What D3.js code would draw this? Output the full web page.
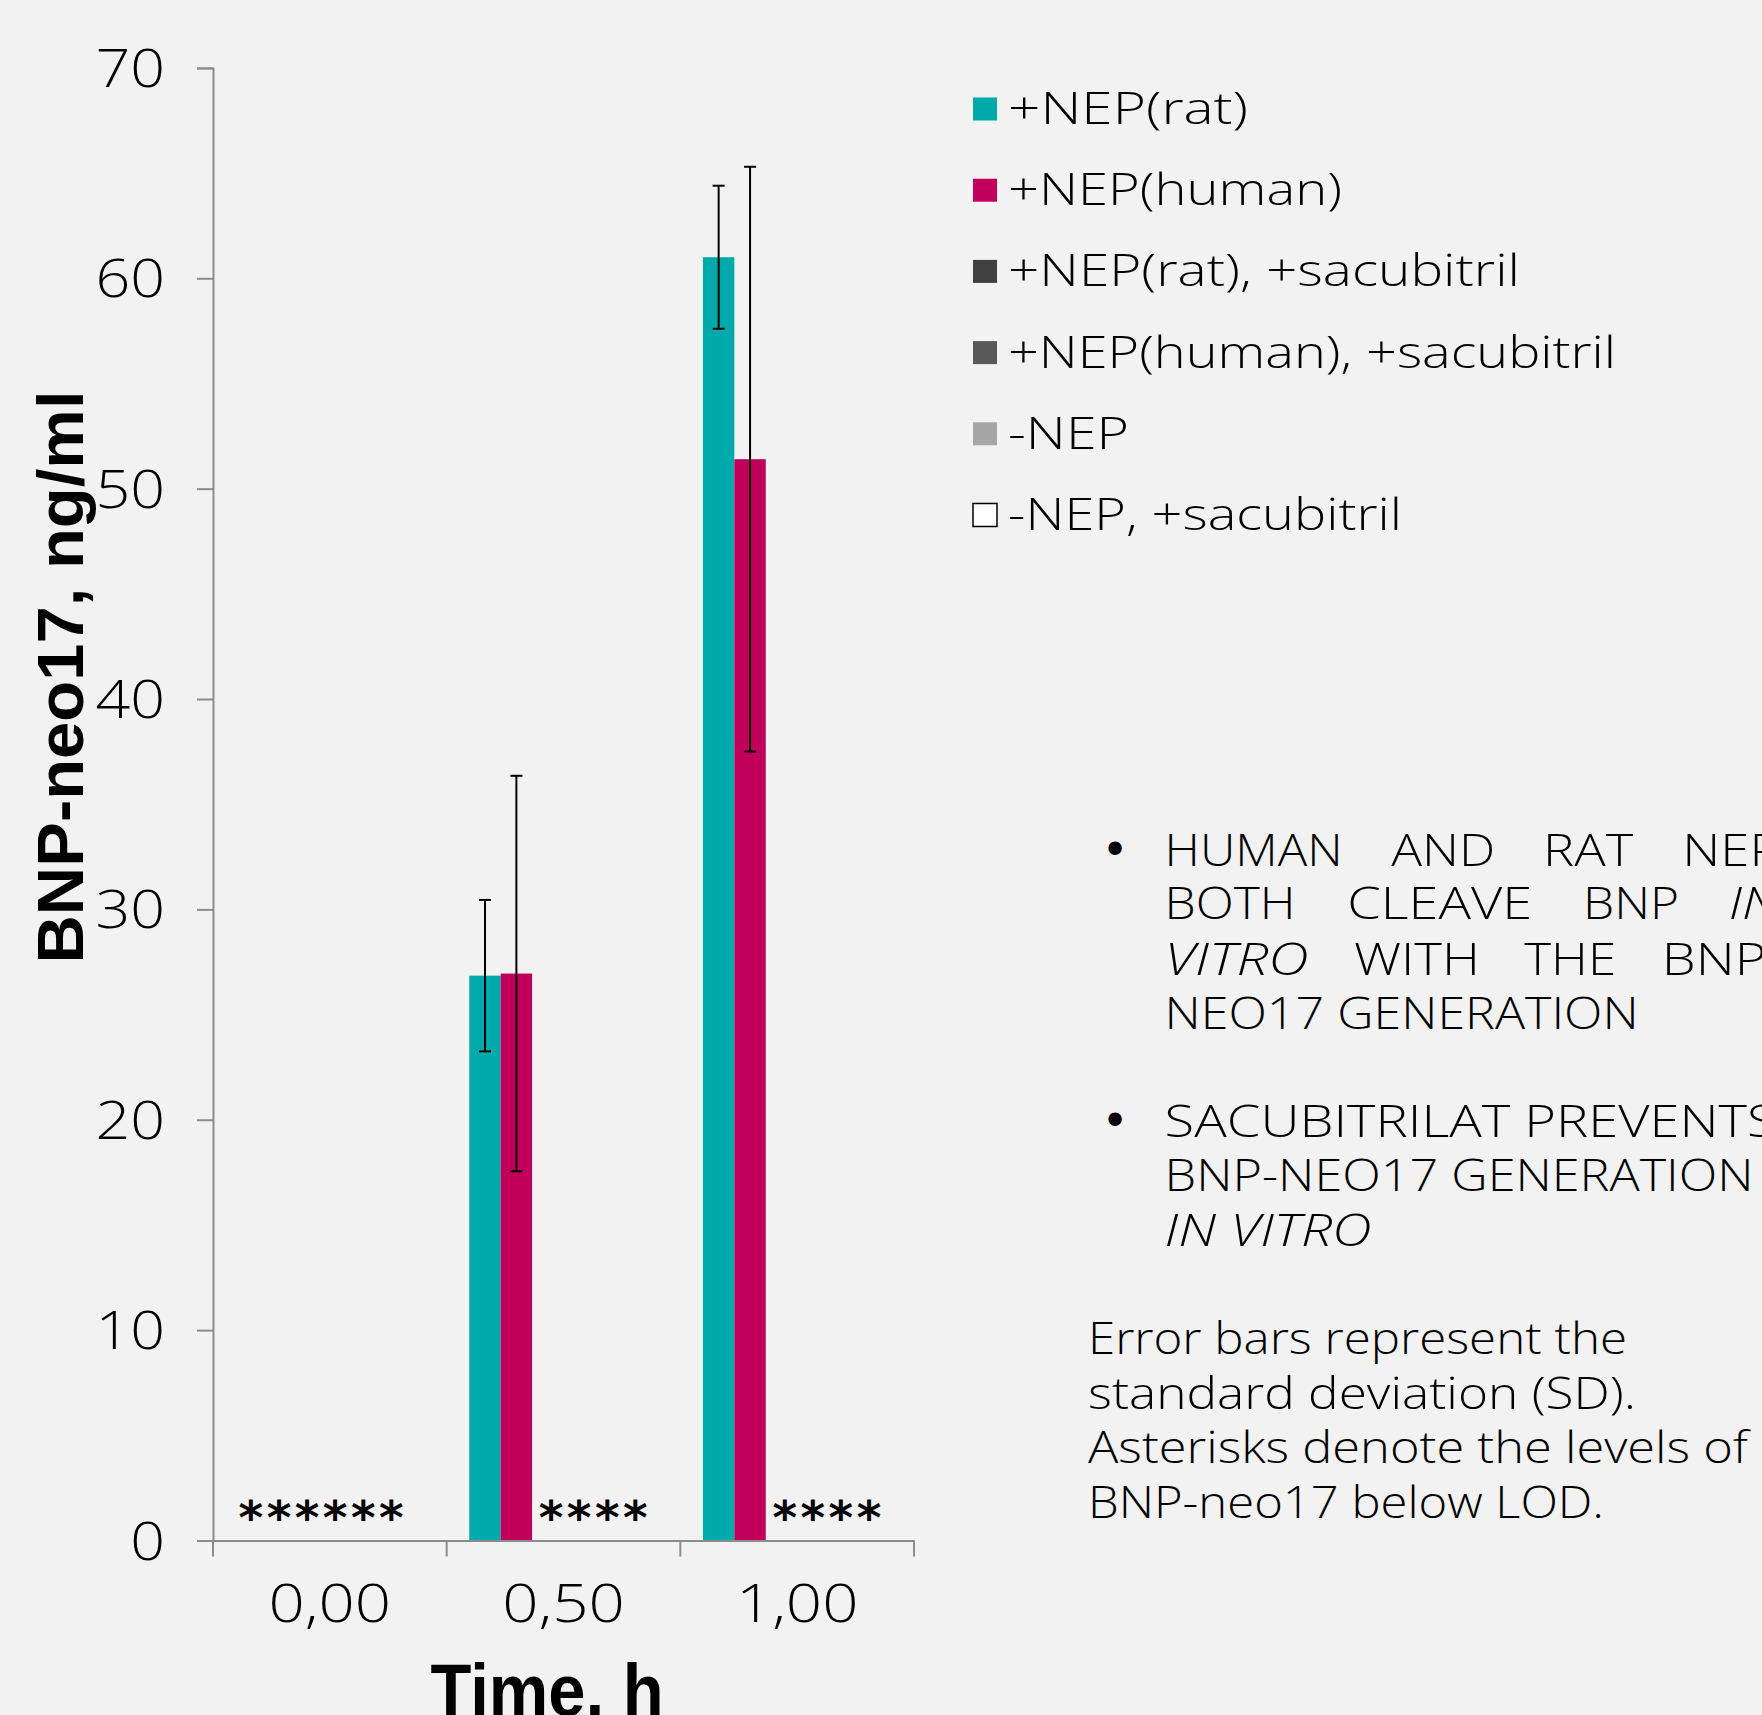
<!DOCTYPE html>
<html>
<head>
<meta charset="utf-8">
<script src="https://cdn.jsdelivr.net/npm/d3@7"></script>
<style>
  html, body { margin: 0; padding: 0; background: #f2f2f2; }
  svg { display: block; }
</style>
</head>
<body>
<script>
// ---------------- DATA ----------------
const categories = ["0,00", "0,50", "1,00"];
const seriesNames = ["+NEP(rat)", "+NEP(human)", "+NEP(rat), +sacubitril",
                     "+NEP(human), +sacubitril", "-NEP", "-NEP, +sacubitril"];
const seriesColors = ["#00aaaa", "#c0005a", "#404040", "#595959", "#a6a6a6", "#ffffff"];
const ratNEP        = [0, 26.85, 61.0];
const humanNEP      = [0, 26.95, 51.4];
const ratNEPSac     = [0, 0, 0];
const humanNEPSac   = [0, 0, 0];
const noNEP         = [0, 0, 0];
const noNEPSac      = [0, 0, 0];
const ratSD         = [0, 3.6, 3.4];
const humanSD       = [0, 9.4, 13.9];
const zeroSD        = [0, 0, 0];
// below limit of detection (asterisk) flags per series, per category
const belowLOD = [
  [true, false, false],
  [true, false, false],
  [true, true, true],
  [true, true, true],
  [true, true, true],
  [true, true, true]
];
const yTicks = [0, 10, 20, 30, 40, 50, 60, 70];

const seriesValues = [ratNEP, humanNEP, ratNEPSac, humanNEPSac, noNEP, noNEPSac];
const seriesSD = [ratSD, humanSD, zeroSD, zeroSD, zeroSD, zeroSD];

// ---------------- LAYOUT ----------------
const W = 1762, H = 1715;
const svg = d3.select("body").append("svg").attr("width", W).attr("height", H);
svg.append("rect").attr("width", W).attr("height", H).attr("fill", "#f2f2f2");

const lightFont = "'Open Sans', 'Lato', 'Liberation Sans', sans-serif";
const axisColor = "#8c8c8c";

const y = d3.scaleLinear().domain([0, 70]).range([1540.5, 67.9]);
const x0 = d3.scaleBand().domain(categories).range([213, 914]).padding(0);
const x1 = d3.scaleBand().domain(d3.range(seriesNames.length))
  .range([0, x0.bandwidth()]).paddingInner(0).paddingOuter(0.72);

const rows = [];
seriesValues.forEach((vals, s) => vals.forEach((v, c) =>
  rows.push({s, c, v, sd: seriesSD[s][c], lod: belowLOD[s][c]})));
const slotCenter = d => x0(categories[d.c]) + x1(d.s) + x1.bandwidth() / 2;

const g = svg.append("g");
// bars
g.selectAll("rect.bar").data(rows.filter(d => d.v > 0)).join("rect")
  .attr("class", "bar")
  .attr("x", d => x0(categories[d.c]) + x1(d.s))
  .attr("width", x1.bandwidth())
  .attr("y", d => y(d.v))
  .attr("height", d => y(0) - y(d.v))
  .attr("fill", d => seriesColors[d.s]);

// error bars
const eb = g.selectAll("g.err").data(rows.filter(d => d.sd > 0)).join("g").attr("class", "err")
  .attr("transform", d => `translate(${slotCenter(d)},0)`)
  .attr("stroke", "#000").attr("stroke-width", 2);
eb.append("line").attr("x1", 0).attr("x2", 0).attr("y1", d => y(d.v + d.sd)).attr("y2", d => y(d.v - d.sd));
eb.append("line").attr("x1", -6).attr("x2", 6).attr("y1", d => y(d.v + d.sd)).attr("y2", d => y(d.v + d.sd));
eb.append("line").attr("x1", -6).attr("x2", 6).attr("y1", d => y(d.v - d.sd)).attr("y2", d => y(d.v - d.sd));

// asterisks (one label per category, over the below-LOD series)
const lodGroups = categories.map((c, ci) => {
  const r = rows.filter(d => d.c === ci && d.lod);
  return {ci, n: r.length, cx: d3.mean(r, slotCenter)};
});
g.selectAll("text.lod").data(lodGroups.filter(d => d.n > 0)).join("text")
  .attr("class", "lod")
  .attr("x", d => d.cx - (d.n === 6 ? 7 : 0))
  .attr("y", y(0) - 7)
  .attr("text-anchor", "middle")
  .attr("font-family", "'DejaVu Sans', sans-serif")
  .attr("font-weight", "bold")
  .attr("font-size", 47)
  .attr("letter-spacing", 3.5)
  .attr("fill", "#000")
  .text(d => "*".repeat(d.n));

// y axis
const yAxis = svg.append("g").attr("transform", "translate(213,0)")
  .call(d3.axisLeft(y).tickValues(yTicks).tickSize(16).tickPadding(32).tickFormat(d3.format("d")));
yAxis.select(".domain").attr("stroke", axisColor).attr("stroke-width", 2);
yAxis.selectAll(".tick line").attr("stroke", axisColor).attr("stroke-width", 2);
yAxis.selectAll(".tick text")
  .attr("font-family", lightFont).attr("font-weight", 300)
  .attr("font-size", 53).attr("fill", "#000")
  .attr("x", 0).attr("dy", "0.35em")
  .attr("transform", "translate(-48,0) scale(1.15,1)");

// x axis
const xAxis = svg.append("g").attr("transform", `translate(0,${y(0)})`)
  .call(d3.axisBottom(x0).tickSize(0).tickPadding(0));
xAxis.select(".domain").attr("stroke", axisColor).attr("stroke-width", 2);
xAxis.selectAll(".tick text")
  .attr("font-family", lightFont).attr("font-weight", 300)
  .attr("font-size", 53).attr("fill", "#000")
  .attr("y", 0).attr("dy", 0)
  .attr("transform", "translate(0,81) scale(1.2,1)");
const bounds = categories.map(c => x0(c)).concat([x0(categories[categories.length - 1]) + x0.bandwidth()]);
svg.append("g").selectAll("line").data(bounds).join("line")
  .attr("x1", d => d).attr("x2", d => d)
  .attr("y1", y(0)).attr("y2", y(0) + 16)
  .attr("stroke", axisColor).attr("stroke-width", 2);

// axis titles
svg.append("text")
  .attr("transform", "translate(83,677) rotate(-90)")
  .attr("text-anchor", "middle")
  .attr("font-family", "'Liberation Sans', Arial, sans-serif")
  .attr("font-weight", "bold").attr("font-size", 64)
  .attr("textLength", 573).attr("lengthAdjust", "spacingAndGlyphs")
  .text("BNP-neo17, ng/ml");

svg.append("text")
  .attr("x", 547).attr("y", 1716)
  .attr("text-anchor", "middle")
  .attr("font-family", "'Liberation Sans Narrow', 'Liberation Sans', Arial, sans-serif")
  .attr("font-weight", "bold").attr("font-size", 74)
  .attr("textLength", 233).attr("lengthAdjust", "spacingAndGlyphs")
  .text("Time, h");

// legend
const legendWidths = [240, 334, 512, 608, 121, 394];
const legend = svg.append("g").selectAll("g").data(seriesNames).join("g")
  .attr("transform", (d, i) => `translate(973,${109 + i * 81.2})`);
legend.append("rect")
  .attr("x", 0).attr("y", -11.5).attr("width", 24).attr("height", 23)
  .attr("fill", (d, i) => seriesColors[i])
  .attr("stroke", (d, i) => i === 5 ? "#000" : "none")
  .attr("stroke-width", 1.5);
legend.append("text")
  .attr("x", 35).attr("y", 15)
  .attr("font-family", lightFont).attr("font-weight", 300)
  .attr("font-size", 44).attr("fill", "#000")
  .attr("textLength", (d, i) => legendWidths[i]).attr("lengthAdjust", "spacingAndGlyphs")
  .text(d => d);

// right-hand notes
const notes = svg.append("g").attr("font-family", lightFont).attr("font-weight", 300)
  .attr("font-size", 45).attr("fill", "#000");
[866, 1137].forEach(yy => {
  notes.append("text").attr("x", 1115).attr("y", yy)
    .attr("text-anchor", "middle")
    .attr("font-family", "'DejaVu Sans', sans-serif").attr("font-weight", "normal")
    .attr("font-size", 46).text("•");
});

// [text, x, italic, width]
const wordLines = [
  {y: 866, words: [["HUMAN", 1164.6, false, 178], ["AND", 1391.2, false, 104], ["RAT", 1543.1, false, 90], ["NEP", 1682.3, false, 98]]},
  {y: 919, words: [["BOTH", 1164.6, false, 131], ["CLEAVE", 1347.2, false, 185], ["BNP", 1583, false, 96], ["IN", 1728.8, true, 50]]},
  {y: 975, words: [["VITRO", 1164.6, true, 144], ["WITH", 1353.9, false, 126], ["THE", 1524.2, false, 92], ["BNP-", 1661.8, false, 122]]},
  {y: 1029, words: [["NEO17 GENERATION", 1164.6, false, 474]]},
  {y: 1137, words: [["SACUBITRILAT PREVENTS", 1164.6, false, 612]]},
  {y: 1191, words: [["BNP-NEO17 GENERATION", 1164.6, false, 589]]},
  {y: 1246, words: [["IN VITRO", 1164.6, true, 207]]}
];
wordLines.forEach(line => {
  line.words.forEach(w => {
    notes.append("text").attr("x", w[1]).attr("y", line.y)
      .attr("font-style", w[2] ? "italic" : "normal")
      .attr("textLength", w[3]).attr("lengthAdjust", "spacingAndGlyphs")
      .text(w[0]);
  });
});

const para = ["Error bars represent the", "standard deviation (SD).",
              "Asterisks denote the levels of", "BNP-neo17 below LOD."];
const paraWidths = [539, 548, 660, 516];
para.forEach((t, i) => {
  notes.append("text").attr("x", 1088).attr("y", 1354 + i * 54.7)
    .attr("textLength", paraWidths[i]).attr("lengthAdjust", "spacingAndGlyphs")
    .text(t);
});
</script>
</body>
</html>
